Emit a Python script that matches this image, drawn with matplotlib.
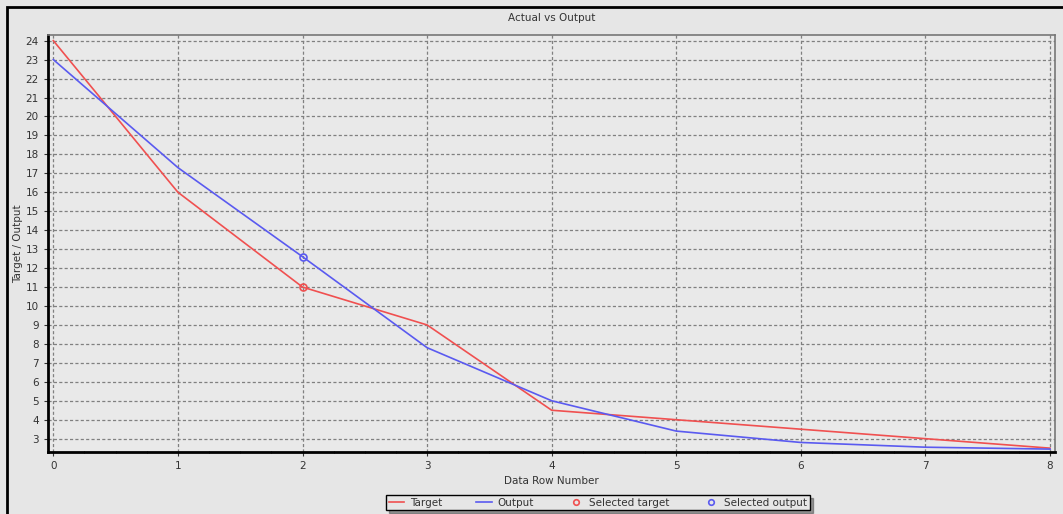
import numpy as np
import matplotlib
matplotlib.use("Agg")
import matplotlib.pyplot as plt
from matplotlib.patches import Rectangle
from matplotlib.lines import Line2D
from matplotlib.ticker import MultipleLocator

# data rows and network values
rows = [0, 1, 2, 3, 4, 5, 6, 7, 8]
target = [24.0, 16.0, 11.0, 9.0, 4.5, 4.0, 3.5, 3.0, 2.5]
output = [23.0, 17.3, 12.6, 7.8, 5.0, 3.4, 2.8, 2.55, 2.45]
selected_row = 2

bg = "#e6e6e6"
red = "#f05050"
blue = "#5a5af0"

fig = plt.figure(figsize=(10.63, 5.14), dpi=100, facecolor=bg)
ax = fig.add_axes([0.0449, 0.12, 0.9476, 0.812])
ax.set_facecolor("#e9e9e9")

ax.plot(rows, target, color=red, lw=1.2, label="Target")
ax.plot(rows, output, color=blue, lw=1.2, label="Output")
ax.plot(rows[selected_row], target[selected_row], "o", ms=5, mfc="none",
        mec=red, mew=1.2, label="Selected target")
ax.plot(rows[selected_row], output[selected_row], "o", ms=5, mfc="none",
        mec=blue, mew=1.2, label="Selected output")

ax.set_xlim(-0.045, 8.04)
ax.set_ylim(2.28, 24.3)
ax.set_xticks(rows)
ax.set_yticks(np.arange(3, 25))
ax.xaxis.set_minor_locator(MultipleLocator(0.25))
ax.tick_params(axis="both", labelsize=7.5, colors="#333333", length=3,
               width=0.8, labelcolor="#333333")
ax.tick_params(axis="x", which="minor", length=2, direction="inout")
ax.grid(True, which="major", color="#808080", linestyle=(0, (2.5, 1.8)), lw=0.9)

for side in ("left", "bottom"):
    ax.spines[side].set_color("black")
    ax.spines[side].set_linewidth(2)
for side in ("top", "right"):
    ax.spines[side].set_color("#777777")
    ax.spines[side].set_linewidth(1.2)

ax.set_title("Actual vs Output", fontsize=7.5, color="#333333", pad=10)
ax.set_xlabel("Data Row Number", fontsize=7.5, color="#333333", labelpad=3)
ax.set_ylabel("Target / Output", fontsize=7.5, color="#333333", labelpad=2)

handles = [
    Line2D([], [], color=red, lw=1.2),
    Line2D([], [], color=blue, lw=1.2),
    Line2D([], [], ls="none", marker="o", ms=4, mfc="none", mec=red, mew=1.2),
    Line2D([], [], ls="none", marker="o", ms=4, mfc="none", mec=blue, mew=1.2),
]
labels = ["Target", "Output", "Selected target", "Selected output"]
leg = fig.legend(handles, labels, loc="center", bbox_to_anchor=(0.5626, 0.022),
                 ncol=4, fontsize=7.5, frameon=True, fancybox=False,
                 shadow=True, handlelength=1.5, handletextpad=0.5,
                 columnspacing=3.3, borderpad=0.25)
leg.get_frame().set_edgecolor("black")
leg.get_frame().set_facecolor(bg)
leg.get_frame().set_linewidth(1.0)
for t in leg.get_texts():
    t.set_color("#333333")

# outer panel border
fig.patches.append(Rectangle((7 / 1063, -0.1), 1.2, 1.1 - 7 / 514,
                             transform=fig.transFigure, fill=False,
                             edgecolor="black", lw=2))

fig.savefig("out.png", dpi=100, facecolor=bg)
